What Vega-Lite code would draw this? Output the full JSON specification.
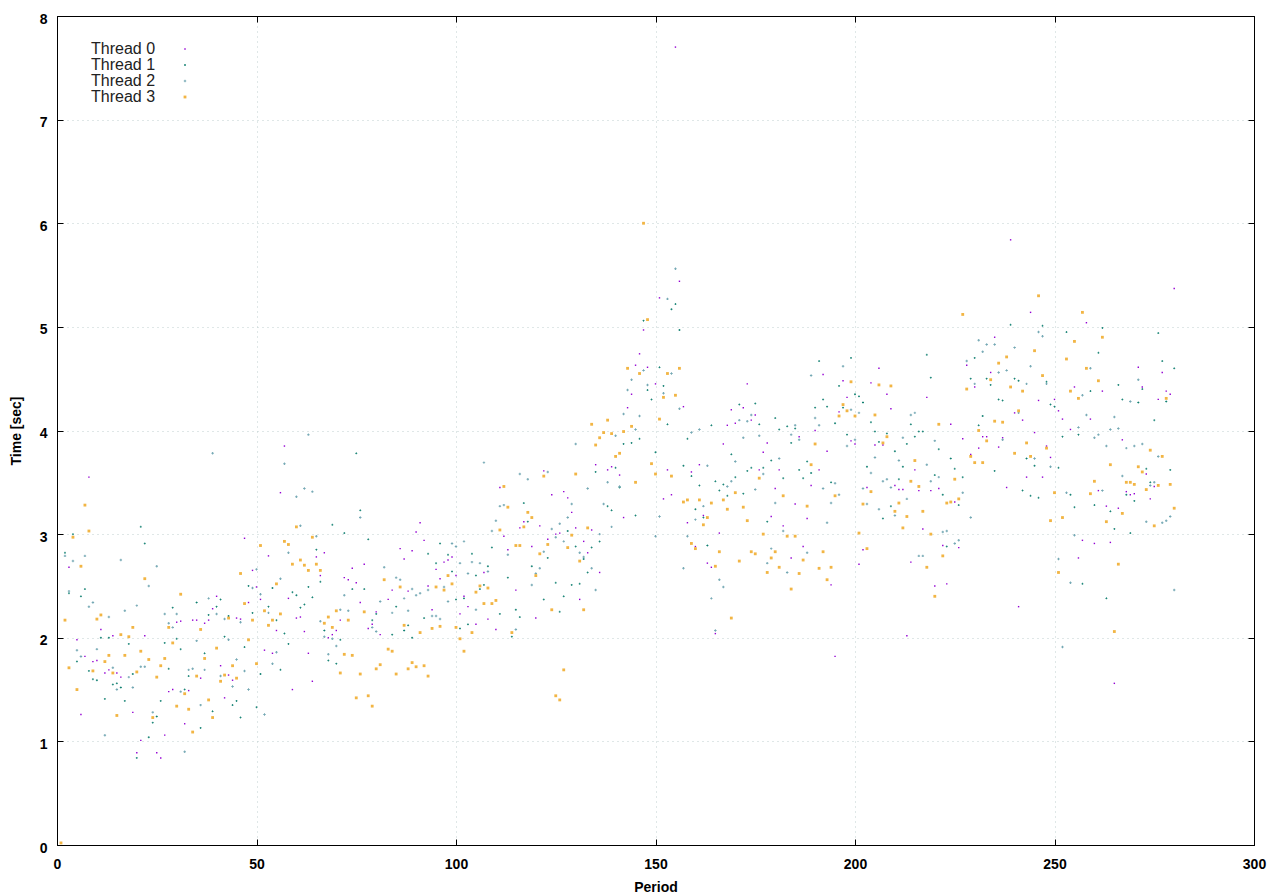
{"$schema":"https://vega.github.io/schema/vega-lite/v6.json","width":1197,"height":829,"autosize":{"type":"none"},"padding":{"left":57,"top":16,"right":26,"bottom":51},"background":"white","config":{"view":{"stroke":"black","strokeWidth":1},"font":"Liberation Sans"},
"data":{"values":[
{"p":3,"t":0,"v":2.68},{"p":5,"t":0,"v":1.98},{"p":6,"t":0,"v":1.26},{"p":7,"t":0,"v":1.82},{"p":8,"t":0,"v":3.55},{"p":9,"t":0,"v":1.77},{"p":10,"t":0,"v":1.78},{"p":11,"t":0,"v":2.08},{"p":12,"t":0,"v":1.66},{"p":13,"t":0,"v":1.69},{"p":14,"t":0,"v":2.02},{"p":15,"t":0,"v":1.66},{"p":16,"t":0,"v":1.62},{"p":19,"t":0,"v":1.28},{"p":20,"t":0,"v":0.89},{"p":21,"t":0,"v":1.01},{"p":22,"t":0,"v":2.02},{"p":25,"t":0,"v":0.89},{"p":26,"t":0,"v":0.84},{"p":27,"t":0,"v":1.06},{"p":28,"t":0,"v":1.48},{"p":29,"t":0,"v":1.5},{"p":30,"t":0,"v":2.15},{"p":31,"t":0,"v":2.16},{"p":32,"t":0,"v":1.17},{"p":33,"t":0,"v":1.49},{"p":34,"t":0,"v":2.17},{"p":35,"t":0,"v":2.17},{"p":36,"t":0,"v":1.61},{"p":37,"t":0,"v":2.14},{"p":38,"t":0,"v":2.17},{"p":39,"t":0,"v":2.28},{"p":40,"t":0,"v":2.4},{"p":41,"t":0,"v":1.73},{"p":42,"t":0,"v":1.42},{"p":43,"t":0,"v":1.64},{"p":44,"t":0,"v":1.59},{"p":45,"t":0,"v":2.19},{"p":46,"t":0,"v":2.18},{"p":47,"t":0,"v":2.96},{"p":48,"t":0,"v":2.34},{"p":49,"t":0,"v":2.65},{"p":50,"t":0,"v":2.49},{"p":51,"t":0,"v":2.37},{"p":52,"t":0,"v":1.88},{"p":53,"t":0,"v":2.79},{"p":54,"t":0,"v":1.85},{"p":55,"t":0,"v":2.07},{"p":56,"t":0,"v":3.4},{"p":57,"t":0,"v":3.85},{"p":58,"t":0,"v":2.38},{"p":59,"t":0,"v":1.5},{"p":60,"t":0,"v":2.19},{"p":61,"t":0,"v":2.2},{"p":62,"t":0,"v":2.06},{"p":63,"t":0,"v":1.85},{"p":64,"t":0,"v":1.58},{"p":65,"t":0,"v":2.78},{"p":66,"t":0,"v":2.6},{"p":67,"t":0,"v":2.82},{"p":68,"t":0,"v":2.0},{"p":69,"t":0,"v":2.03},{"p":70,"t":0,"v":2.07},{"p":71,"t":0,"v":2.17},{"p":72,"t":0,"v":2.58},{"p":73,"t":0,"v":2.56},
{"p":74,"t":0,"v":2.67},{"p":75,"t":0,"v":2.53},{"p":76,"t":0,"v":2.34},{"p":77,"t":0,"v":2.71},{"p":78,"t":0,"v":2.09},{"p":79,"t":0,"v":2.13},{"p":80,"t":0,"v":2.25},{"p":81,"t":0,"v":2.03},{"p":83,"t":0,"v":2.37},{"p":84,"t":0,"v":2.46},{"p":86,"t":0,"v":2.86},{"p":87,"t":0,"v":2.76},{"p":88,"t":0,"v":2.45},{"p":89,"t":0,"v":2.84},{"p":90,"t":0,"v":3.02},{"p":91,"t":0,"v":3.11},{"p":92,"t":0,"v":2.94},{"p":93,"t":0,"v":2.5},{"p":94,"t":0,"v":2.27},{"p":95,"t":0,"v":2.66},{"p":96,"t":0,"v":2.57},{"p":97,"t":0,"v":2.73},{"p":98,"t":0,"v":2.75},{"p":99,"t":0,"v":2.78},{"p":100,"t":0,"v":2.6},{"p":101,"t":0,"v":2.23},{"p":102,"t":0,"v":2.4},{"p":103,"t":0,"v":2.3},{"p":105,"t":0,"v":2.13},{"p":107,"t":0,"v":2.63},{"p":108,"t":0,"v":2.18},{"p":110,"t":0,"v":2.08},{"p":111,"t":0,"v":3.45},{"p":112,"t":0,"v":2.98},{"p":113,"t":0,"v":2.85},{"p":115,"t":0,"v":2.46},{"p":116,"t":0,"v":3.06},{"p":117,"t":0,"v":3.12},{"p":119,"t":0,"v":2.88},{"p":120,"t":0,"v":2.19},{"p":121,"t":0,"v":3.08},{"p":122,"t":0,"v":3.61},{"p":123,"t":0,"v":2.95},{"p":124,"t":0,"v":3.38},{"p":125,"t":0,"v":3.0},{"p":126,"t":0,"v":3.01},{"p":127,"t":0,"v":3.41},{"p":128,"t":0,"v":3.35},{"p":129,"t":0,"v":3.21},{"p":130,"t":0,"v":3.06},{"p":131,"t":0,"v":2.37},{"p":132,"t":0,"v":2.93},{"p":133,"t":0,"v":2.82},{"p":134,"t":0,"v":3.04},{"p":135,"t":0,"v":3.67},{"p":136,"t":0,"v":2.63},{"p":138,"t":0,"v":3.62},{"p":139,"t":0,"v":3.65},{"p":141,"t":0,"v":3.57},{"p":142,"t":0,"v":3.16},{"p":143,"t":0,"v":4.22},{"p":144,"t":0,"v":4.35},{"p":145,"t":0,"v":4.63},{"p":146,"t":0,"v":4.74},{"p":147,"t":0,"v":4.97},{"p":148,"t":0,"v":4.61},
{"p":150,"t":0,"v":4.45},{"p":151,"t":0,"v":5.28},{"p":152,"t":0,"v":3.34},{"p":153,"t":0,"v":3.62},{"p":154,"t":0,"v":3.38},{"p":155,"t":0,"v":7.7},{"p":156,"t":0,"v":5.44},{"p":157,"t":0,"v":4.23},{"p":158,"t":0,"v":3.11},{"p":159,"t":0,"v":3.6},{"p":160,"t":0,"v":2.88},{"p":161,"t":0,"v":3.67},{"p":162,"t":0,"v":3.18},{"p":163,"t":0,"v":2.72},{"p":164,"t":0,"v":2.68},{"p":165,"t":0,"v":2.04},{"p":166,"t":0,"v":3.01},{"p":167,"t":0,"v":3.87},{"p":168,"t":0,"v":4.05},{"p":169,"t":0,"v":4.2},{"p":170,"t":0,"v":4.07},{"p":172,"t":0,"v":4.22},{"p":173,"t":0,"v":4.45},{"p":174,"t":0,"v":4.1},{"p":175,"t":0,"v":4.15},{"p":176,"t":0,"v":3.62},{"p":177,"t":0,"v":3.79},{"p":178,"t":0,"v":3.88},{"p":179,"t":0,"v":3.17},{"p":180,"t":0,"v":3.44},{"p":181,"t":0,"v":3.62},{"p":182,"t":0,"v":3.08},{"p":184,"t":0,"v":2.77},{"p":185,"t":0,"v":3.29},{"p":186,"t":0,"v":3.94},{"p":187,"t":0,"v":2.88},{"p":188,"t":0,"v":3.15},{"p":189,"t":0,"v":3.47},{"p":190,"t":0,"v":4.0},{"p":191,"t":0,"v":3.62},{"p":192,"t":0,"v":4.54},{"p":193,"t":0,"v":3.8},{"p":194,"t":0,"v":2.51},{"p":195,"t":0,"v":1.82},{"p":196,"t":0,"v":4.18},{"p":197,"t":0,"v":4.48},{"p":198,"t":0,"v":4.32},{"p":199,"t":0,"v":3.9},{"p":200,"t":0,"v":3.87},{"p":201,"t":0,"v":2.71},{"p":202,"t":0,"v":2.85},{"p":203,"t":0,"v":3.45},{"p":204,"t":0,"v":4.46},{"p":205,"t":0,"v":3.86},{"p":206,"t":0,"v":4.6},{"p":207,"t":0,"v":3.86},{"p":208,"t":0,"v":4.35},{"p":209,"t":0,"v":4.21},{"p":210,"t":0,"v":3.47},{"p":211,"t":0,"v":3.43},{"p":212,"t":0,"v":3.43},{"p":213,"t":0,"v":2.02},{"p":214,"t":0,"v":2.73},{"p":215,"t":0,"v":3.62},{"p":216,"t":0,"v":3.42},{"p":217,"t":0,"v":3.05},{"p":218,"t":0,"v":4.32},{"p":219,"t":0,"v":3.42},{"p":220,"t":0,"v":2.5},{"p":221,"t":0,"v":3.44},{"p":222,"t":0,"v":2.89},{"p":223,"t":0,"v":2.52},
{"p":224,"t":0,"v":4.06},{"p":225,"t":0,"v":3.31},{"p":226,"t":0,"v":2.87},{"p":227,"t":0,"v":3.92},{"p":228,"t":0,"v":4.63},{"p":229,"t":0,"v":3.77},{"p":230,"t":0,"v":4.42},{"p":231,"t":0,"v":3.83},{"p":232,"t":0,"v":3.94},{"p":233,"t":0,"v":3.94},{"p":234,"t":0,"v":4.56},{"p":235,"t":0,"v":4.9},{"p":236,"t":0,"v":3.84},{"p":237,"t":0,"v":3.93},{"p":238,"t":0,"v":3.45},{"p":239,"t":0,"v":5.84},{"p":240,"t":0,"v":4.17},{"p":241,"t":0,"v":2.3},{"p":242,"t":0,"v":4.1},{"p":243,"t":0,"v":3.55},{"p":244,"t":0,"v":5.14},{"p":245,"t":0,"v":3.98},{"p":246,"t":0,"v":4.29},{"p":247,"t":0,"v":3.55},{"p":248,"t":0,"v":3.85},{"p":249,"t":0,"v":3.74},{"p":250,"t":0,"v":4.3},{"p":251,"t":0,"v":4.19},{"p":252,"t":0,"v":4.11},{"p":254,"t":0,"v":4.01},{"p":255,"t":0,"v":4.42},{"p":256,"t":0,"v":2.77},{"p":257,"t":0,"v":2.94},{"p":258,"t":0,"v":5.04},{"p":259,"t":0,"v":4.11},{"p":260,"t":0,"v":2.91},{"p":261,"t":0,"v":3.42},{"p":262,"t":0,"v":4.38},{"p":263,"t":0,"v":3.27},{"p":264,"t":0,"v":2.92},{"p":265,"t":0,"v":1.56},{"p":266,"t":0,"v":3.25},{"p":267,"t":0,"v":3.91},{"p":268,"t":0,"v":3.41},{"p":269,"t":0,"v":3.38},{"p":270,"t":0,"v":3.39},{"p":271,"t":0,"v":4.61},{"p":272,"t":0,"v":4.42},{"p":273,"t":0,"v":3.58},{"p":274,"t":0,"v":3.34},{"p":275,"t":0,"v":3.46},{"p":276,"t":0,"v":4.3},{"p":277,"t":0,"v":4.56},{"p":278,"t":0,"v":4.38},{"p":279,"t":0,"v":4.35},{"p":280,"t":0,"v":5.37},
{"p":2,"t":1,"v":2.82},{"p":3,"t":1,"v":2.43},{"p":4,"t":1,"v":3.0},{"p":5,"t":1,"v":1.77},{"p":6,"t":1,"v":2.4},{"p":7,"t":1,"v":2.47},{"p":8,"t":1,"v":1.68},{"p":9,"t":1,"v":1.6},{"p":10,"t":1,"v":1.59},{"p":11,"t":1,"v":2.0},{"p":12,"t":1,"v":1.41},{"p":13,"t":1,"v":2.0},{"p":14,"t":1,"v":1.55},{"p":15,"t":1,"v":1.56},{"p":16,"t":1,"v":1.52},{"p":17,"t":1,"v":1.39},{"p":18,"t":1,"v":1.94},{"p":19,"t":1,"v":1.65},{"p":20,"t":1,"v":0.84},{"p":21,"t":1,"v":3.07},{"p":22,"t":1,"v":2.91},{"p":23,"t":1,"v":1.04},{"p":24,"t":1,"v":1.18},{"p":25,"t":1,"v":1.24},{"p":26,"t":1,"v":1.39},{"p":27,"t":1,"v":1.95},{"p":28,"t":1,"v":1.7},{"p":29,"t":1,"v":2.29},{"p":30,"t":1,"v":1.99},{"p":31,"t":1,"v":1.89},{"p":32,"t":1,"v":1.5},{"p":33,"t":1,"v":1.63},{"p":35,"t":1,"v":2.34},{"p":36,"t":1,"v":1.13},{"p":37,"t":1,"v":1.85},{"p":38,"t":1,"v":2.22},{"p":39,"t":1,"v":1.29},{"p":40,"t":1,"v":2.3},{"p":41,"t":1,"v":2.37},{"p":42,"t":1,"v":2.01},{"p":43,"t":1,"v":2.21},{"p":44,"t":1,"v":1.35},{"p":45,"t":1,"v":1.39},{"p":46,"t":1,"v":1.23},{"p":47,"t":1,"v":1.91},{"p":48,"t":1,"v":2.5},{"p":49,"t":1,"v":2.24},{"p":50,"t":1,"v":1.33},{"p":51,"t":1,"v":1.65},{"p":53,"t":1,"v":2.3},{"p":54,"t":1,"v":2.48},{"p":55,"t":1,"v":2.17},{"p":56,"t":1,"v":1.69},{"p":57,"t":1,"v":2.04},{"p":58,"t":1,"v":1.94},{"p":59,"t":1,"v":2.44},{"p":60,"t":1,"v":2.41},{"p":61,"t":1,"v":2.29},{"p":62,"t":1,"v":2.32},{"p":63,"t":1,"v":2.49},{"p":64,"t":1,"v":2.39},{"p":65,"t":1,"v":2.85},{"p":66,"t":1,"v":2.54},{"p":67,"t":1,"v":2.07},{"p":68,"t":1,"v":1.78},{"p":69,"t":1,"v":3.09},{"p":70,"t":1,"v":1.75},{"p":71,"t":1,"v":1.98},{"p":72,"t":1,"v":3.01},
{"p":74,"t":1,"v":2.47},{"p":75,"t":1,"v":3.78},{"p":76,"t":1,"v":3.23},{"p":77,"t":1,"v":2.47},{"p":78,"t":1,"v":2.95},{"p":79,"t":1,"v":2.17},{"p":80,"t":1,"v":2.23},{"p":84,"t":1,"v":2.03},{"p":85,"t":1,"v":2.3},{"p":87,"t":1,"v":2.07},{"p":88,"t":1,"v":2.12},{"p":89,"t":1,"v":2.0},{"p":92,"t":1,"v":2.19},{"p":93,"t":1,"v":2.81},{"p":95,"t":1,"v":2.72},{"p":96,"t":1,"v":2.91},{"p":98,"t":1,"v":2.8},{"p":99,"t":1,"v":2.64},{"p":100,"t":1,"v":2.37},{"p":101,"t":1,"v":2.09},{"p":102,"t":1,"v":2.38},{"p":103,"t":1,"v":2.13},{"p":104,"t":1,"v":2.81},{"p":105,"t":1,"v":2.6},{"p":106,"t":1,"v":2.47},{"p":107,"t":1,"v":2.51},{"p":108,"t":1,"v":2.69},{"p":109,"t":1,"v":2.87},{"p":111,"t":1,"v":2.23},{"p":113,"t":1,"v":2.58},{"p":114,"t":1,"v":2.01},{"p":115,"t":1,"v":2.27},{"p":116,"t":1,"v":2.2},{"p":117,"t":1,"v":3.3},{"p":118,"t":1,"v":3.12},{"p":119,"t":1,"v":2.69},{"p":122,"t":1,"v":2.37},{"p":123,"t":1,"v":2.77},{"p":125,"t":1,"v":2.53},{"p":126,"t":1,"v":2.25},{"p":127,"t":1,"v":2.4},{"p":128,"t":1,"v":3.03},{"p":129,"t":1,"v":2.51},{"p":130,"t":1,"v":2.88},{"p":131,"t":1,"v":2.52},{"p":132,"t":1,"v":2.76},{"p":133,"t":1,"v":2.63},{"p":134,"t":1,"v":2.87},{"p":135,"t":1,"v":3.6},{"p":136,"t":1,"v":2.93},{"p":138,"t":1,"v":3.27},{"p":139,"t":1,"v":3.23},{"p":140,"t":1,"v":3.64},{"p":141,"t":1,"v":3.45},{"p":142,"t":1,"v":3.87},{"p":144,"t":1,"v":3.88},{"p":145,"t":1,"v":3.18},{"p":146,"t":1,"v":3.92},{"p":147,"t":1,"v":5.06},{"p":148,"t":1,"v":4.39},
{"p":149,"t":1,"v":4.3},{"p":150,"t":1,"v":3.79},{"p":151,"t":1,"v":4.61},{"p":152,"t":1,"v":4.43},{"p":153,"t":1,"v":4.06},{"p":154,"t":1,"v":5.17},{"p":155,"t":1,"v":5.22},{"p":156,"t":1,"v":4.97},{"p":157,"t":1,"v":3.66},{"p":158,"t":1,"v":3.92},{"p":159,"t":1,"v":3.56},{"p":160,"t":1,"v":3.24},{"p":161,"t":1,"v":3.47},{"p":162,"t":1,"v":3.16},{"p":163,"t":1,"v":2.89},{"p":164,"t":1,"v":4.05},{"p":165,"t":1,"v":3.51},{"p":166,"t":1,"v":3.42},{"p":167,"t":1,"v":3.48},{"p":168,"t":1,"v":3.37},{"p":169,"t":1,"v":3.77},{"p":170,"t":1,"v":3.55},{"p":171,"t":1,"v":4.25},{"p":172,"t":1,"v":3.39},{"p":173,"t":1,"v":3.61},{"p":174,"t":1,"v":3.64},{"p":175,"t":1,"v":4.26},{"p":176,"t":1,"v":4.06},{"p":177,"t":1,"v":3.64},{"p":178,"t":1,"v":3.12},{"p":179,"t":1,"v":3.71},{"p":180,"t":1,"v":4.12},{"p":181,"t":1,"v":4.01},{"p":182,"t":1,"v":3.54},{"p":183,"t":1,"v":4.04},{"p":184,"t":1,"v":3.88},{"p":185,"t":1,"v":4.02},{"p":186,"t":1,"v":3.62},{"p":187,"t":1,"v":3.54},{"p":188,"t":1,"v":3.7},{"p":189,"t":1,"v":3.59},{"p":190,"t":1,"v":4.22},{"p":191,"t":1,"v":4.67},{"p":192,"t":1,"v":4.3},{"p":193,"t":1,"v":4.23},{"p":194,"t":1,"v":3.5},{"p":195,"t":1,"v":4.07},{"p":196,"t":1,"v":4.43},{"p":197,"t":1,"v":4.22},{"p":198,"t":1,"v":3.96},{"p":199,"t":1,"v":4.7},{"p":200,"t":1,"v":4.35},{"p":201,"t":1,"v":4.33},{"p":202,"t":1,"v":4.27},{"p":203,"t":1,"v":3.65},{"p":204,"t":1,"v":4.08},{"p":205,"t":1,"v":3.99},{"p":206,"t":1,"v":3.89},{"p":207,"t":1,"v":3.15},{"p":208,"t":1,"v":3.97},{"p":209,"t":1,"v":3.27},{"p":210,"t":1,"v":3.8},{"p":211,"t":1,"v":3.53},{"p":212,"t":1,"v":3.65},{"p":213,"t":1,"v":3.87},{"p":214,"t":1,"v":4.06},{"p":215,"t":1,"v":3.94},{"p":216,"t":1,"v":3.99},{"p":217,"t":1,"v":3.99},{"p":218,"t":1,"v":4.73},{"p":219,"t":1,"v":4.51},{"p":220,"t":1,"v":3.57},{"p":221,"t":1,"v":3.82},{"p":222,"t":1,"v":3.38},{"p":223,"t":1,"v":2.88},
{"p":224,"t":1,"v":3.73},{"p":225,"t":1,"v":3.63},{"p":226,"t":1,"v":3.28},{"p":227,"t":1,"v":3.55},{"p":229,"t":1,"v":4.5},{"p":230,"t":1,"v":4.7},{"p":231,"t":1,"v":4.05},{"p":232,"t":1,"v":4.14},{"p":233,"t":1,"v":4.5},{"p":234,"t":1,"v":4.44},{"p":235,"t":1,"v":3.61},{"p":236,"t":1,"v":4.3},{"p":237,"t":1,"v":4.29},{"p":239,"t":1,"v":5.02},{"p":240,"t":1,"v":4.5},{"p":241,"t":1,"v":4.48},{"p":242,"t":1,"v":3.42},{"p":243,"t":1,"v":3.73},{"p":244,"t":1,"v":3.37},{"p":245,"t":1,"v":3.66},{"p":246,"t":1,"v":3.35},{"p":247,"t":1,"v":5.01},{"p":248,"t":1,"v":4.47},{"p":249,"t":1,"v":4.25},{"p":250,"t":1,"v":4.23},{"p":251,"t":1,"v":3.64},{"p":252,"t":1,"v":3.94},{"p":253,"t":1,"v":4.95},{"p":254,"t":1,"v":3.38},{"p":255,"t":1,"v":3.26},{"p":256,"t":1,"v":3.96},{"p":257,"t":1,"v":2.52},{"p":259,"t":1,"v":4.38},{"p":260,"t":1,"v":3.28},{"p":261,"t":1,"v":4.75},{"p":262,"t":1,"v":4.99},{"p":263,"t":1,"v":2.38},{"p":264,"t":1,"v":3.22},{"p":265,"t":1,"v":3.05},{"p":266,"t":1,"v":4.44},{"p":267,"t":1,"v":4.3},{"p":268,"t":1,"v":3.38},{"p":269,"t":1,"v":3.01},{"p":270,"t":1,"v":3.32},{"p":271,"t":1,"v":4.27},{"p":272,"t":1,"v":4.4},{"p":273,"t":1,"v":3.63},{"p":274,"t":1,"v":3.5},{"p":275,"t":1,"v":4.1},{"p":276,"t":1,"v":4.94},{"p":277,"t":1,"v":4.67},{"p":278,"t":1,"v":4.28},{"p":279,"t":1,"v":3.62},{"p":280,"t":1,"v":4.6},
{"p":2,"t":2,"v":2.79},{"p":3,"t":2,"v":2.45},{"p":4,"t":2,"v":2.74},{"p":5,"t":2,"v":1.88},{"p":6,"t":2,"v":1.82},{"p":7,"t":2,"v":2.79},{"p":8,"t":2,"v":2.3},{"p":9,"t":2,"v":2.34},{"p":10,"t":2,"v":1.89},{"p":12,"t":2,"v":1.06},{"p":13,"t":2,"v":2.2},{"p":14,"t":2,"v":1.71},{"p":15,"t":2,"v":1.5},{"p":16,"t":2,"v":2.75},{"p":17,"t":2,"v":2.26},{"p":18,"t":2,"v":1.62},{"p":19,"t":2,"v":1.52},{"p":20,"t":2,"v":2.31},{"p":21,"t":2,"v":1.72},{"p":22,"t":2,"v":1.72},{"p":23,"t":2,"v":2.5},{"p":24,"t":2,"v":1.28},{"p":25,"t":2,"v":2.69},{"p":27,"t":2,"v":2.23},{"p":28,"t":2,"v":2.14},{"p":29,"t":2,"v":2.1},{"p":30,"t":2,"v":2.23},{"p":31,"t":2,"v":1.48},{"p":32,"t":2,"v":0.9},{"p":33,"t":2,"v":1.69},{"p":34,"t":2,"v":1.7},{"p":35,"t":2,"v":1.97},{"p":36,"t":2,"v":1.35},{"p":37,"t":2,"v":1.69},{"p":38,"t":2,"v":2.38},{"p":39,"t":2,"v":3.78},{"p":40,"t":2,"v":2.23},{"p":41,"t":2,"v":1.63},{"p":42,"t":2,"v":2.18},{"p":43,"t":2,"v":1.98},{"p":44,"t":2,"v":1.53},{"p":45,"t":2,"v":1.79},{"p":46,"t":2,"v":2.15},{"p":47,"t":2,"v":1.68},{"p":48,"t":2,"v":1.5},{"p":49,"t":2,"v":2.48},{"p":50,"t":2,"v":2.66},{"p":51,"t":2,"v":2.42},{"p":52,"t":2,"v":1.26},{"p":53,"t":2,"v":2.24},{"p":54,"t":2,"v":1.75},{"p":55,"t":2,"v":1.86},{"p":56,"t":2,"v":2.57},{"p":57,"t":2,"v":3.68},{"p":58,"t":2,"v":2.82},{"p":60,"t":2,"v":3.36},{"p":61,"t":2,"v":3.08},{"p":62,"t":2,"v":3.44},{"p":63,"t":2,"v":3.96},{"p":64,"t":2,"v":3.41},{"p":65,"t":2,"v":2.98},{"p":66,"t":2,"v":2.16},{"p":67,"t":2,"v":2.01},{"p":68,"t":2,"v":1.84},{"p":69,"t":2,"v":1.99},{"p":70,"t":2,"v":1.92},{"p":71,"t":2,"v":2.27},{"p":72,"t":2,"v":2.41},{"p":73,"t":2,"v":2.26},
{"p":76,"t":2,"v":3.16},{"p":79,"t":2,"v":2.1},{"p":80,"t":2,"v":2.06},{"p":81,"t":2,"v":2.35},{"p":82,"t":2,"v":2.68},{"p":84,"t":2,"v":2.24},{"p":85,"t":2,"v":2.58},{"p":86,"t":2,"v":2.56},{"p":87,"t":2,"v":2.38},{"p":88,"t":2,"v":2.26},{"p":89,"t":2,"v":2.47},{"p":90,"t":2,"v":2.41},{"p":91,"t":2,"v":2.43},{"p":93,"t":2,"v":2.46},{"p":94,"t":2,"v":2.21},{"p":95,"t":2,"v":2.21},{"p":96,"t":2,"v":2.18},{"p":97,"t":2,"v":2.49},{"p":98,"t":2,"v":2.35},{"p":99,"t":2,"v":2.91},{"p":100,"t":2,"v":2.88},{"p":101,"t":2,"v":2.72},{"p":102,"t":2,"v":2.93},{"p":103,"t":2,"v":2.62},{"p":104,"t":2,"v":2.73},{"p":105,"t":2,"v":2.27},{"p":106,"t":2,"v":2.72},{"p":107,"t":2,"v":3.69},{"p":108,"t":2,"v":2.64},{"p":109,"t":2,"v":3.03},{"p":110,"t":2,"v":3.13},{"p":111,"t":2,"v":3.27},{"p":112,"t":2,"v":3.28},{"p":113,"t":2,"v":2.8},{"p":115,"t":2,"v":2.08},{"p":116,"t":2,"v":3.58},{"p":118,"t":2,"v":3.53},{"p":119,"t":2,"v":2.51},{"p":120,"t":2,"v":2.62},{"p":121,"t":2,"v":2.67},{"p":122,"t":2,"v":2.83},{"p":123,"t":2,"v":3.6},{"p":124,"t":2,"v":3.05},{"p":125,"t":2,"v":2.97},{"p":126,"t":2,"v":3.1},{"p":127,"t":2,"v":2.93},{"p":128,"t":2,"v":3.16},{"p":129,"t":2,"v":3.29},{"p":130,"t":2,"v":3.87},{"p":131,"t":2,"v":2.82},{"p":132,"t":2,"v":2.78},{"p":133,"t":2,"v":3.44},{"p":134,"t":2,"v":2.67},{"p":135,"t":2,"v":2.46},{"p":136,"t":2,"v":3.0},{"p":137,"t":2,"v":3.29},{"p":138,"t":2,"v":3.5},{"p":139,"t":2,"v":3.07},{"p":140,"t":2,"v":3.95},{"p":141,"t":2,"v":3.46},{"p":142,"t":2,"v":4.16},{"p":143,"t":2,"v":4.39},{"p":144,"t":2,"v":4.49},{"p":145,"t":2,"v":4.01},{"p":146,"t":2,"v":4.14},{"p":147,"t":2,"v":4.58},{"p":148,"t":2,"v":4.44},
{"p":150,"t":2,"v":2.98},{"p":151,"t":2,"v":3.17},{"p":152,"t":2,"v":4.36},{"p":153,"t":2,"v":5.27},{"p":154,"t":2,"v":4.55},{"p":155,"t":2,"v":5.56},{"p":156,"t":2,"v":4.21},{"p":157,"t":2,"v":2.67},{"p":158,"t":2,"v":2.98},{"p":159,"t":2,"v":3.98},{"p":160,"t":2,"v":3.14},{"p":161,"t":2,"v":4.01},{"p":162,"t":2,"v":3.27},{"p":163,"t":2,"v":3.66},{"p":164,"t":2,"v":2.38},{"p":165,"t":2,"v":2.07},{"p":166,"t":2,"v":2.56},{"p":167,"t":2,"v":2.49},{"p":168,"t":2,"v":3.46},{"p":169,"t":2,"v":3.51},{"p":170,"t":2,"v":3.7},{"p":171,"t":2,"v":4.1},{"p":172,"t":2,"v":3.93},{"p":173,"t":2,"v":4.09},{"p":174,"t":2,"v":4.15},{"p":175,"t":2,"v":3.43},{"p":176,"t":2,"v":3.95},{"p":177,"t":2,"v":3.58},{"p":178,"t":2,"v":2.72},{"p":179,"t":2,"v":2.86},{"p":180,"t":2,"v":3.3},{"p":181,"t":2,"v":3.73},{"p":182,"t":2,"v":3.03},{"p":183,"t":2,"v":2.63},{"p":184,"t":2,"v":3.96},{"p":185,"t":2,"v":4.05},{"p":186,"t":2,"v":3.91},{"p":188,"t":2,"v":2.82},{"p":189,"t":2,"v":4.53},{"p":190,"t":2,"v":4.12},{"p":191,"t":2,"v":4.05},{"p":192,"t":2,"v":3.44},{"p":193,"t":2,"v":3.11},{"p":194,"t":2,"v":3.3},{"p":195,"t":2,"v":3.49},{"p":196,"t":2,"v":3.38},{"p":197,"t":2,"v":4.62},{"p":198,"t":2,"v":3.85},{"p":199,"t":2,"v":4.2},{"p":200,"t":2,"v":3.91},{"p":201,"t":2,"v":4.17},{"p":202,"t":2,"v":3.44},{"p":203,"t":2,"v":3.29},{"p":204,"t":2,"v":3.59},{"p":205,"t":2,"v":3.74},{"p":206,"t":2,"v":3.24},{"p":207,"t":2,"v":3.51},{"p":208,"t":2,"v":3.53},{"p":209,"t":2,"v":3.45},{"p":210,"t":2,"v":3.18},{"p":211,"t":2,"v":3.71},{"p":212,"t":2,"v":3.93},{"p":213,"t":2,"v":3.34},{"p":214,"t":2,"v":4.15},{"p":215,"t":2,"v":4.17},{"p":216,"t":2,"v":2.79},{"p":217,"t":2,"v":2.79},{"p":218,"t":2,"v":3.67},{"p":219,"t":2,"v":3.51},{"p":220,"t":2,"v":3.9},{"p":221,"t":2,"v":3.55},{"p":222,"t":2,"v":3.02},{"p":223,"t":2,"v":3.03},
{"p":225,"t":2,"v":2.91},{"p":226,"t":2,"v":2.94},{"p":227,"t":2,"v":3.4},{"p":228,"t":2,"v":4.67},{"p":229,"t":2,"v":3.16},{"p":230,"t":2,"v":4.45},{"p":231,"t":2,"v":4.87},{"p":232,"t":2,"v":4.76},{"p":233,"t":2,"v":4.83},{"p":235,"t":2,"v":4.83},{"p":236,"t":2,"v":4.56},{"p":237,"t":2,"v":3.91},{"p":238,"t":2,"v":4.58},{"p":240,"t":2,"v":4.8},{"p":241,"t":2,"v":4.17},{"p":243,"t":2,"v":4.45},{"p":244,"t":2,"v":4.62},{"p":245,"t":2,"v":3.73},{"p":246,"t":2,"v":4.95},{"p":247,"t":2,"v":4.91},{"p":248,"t":2,"v":4.45},{"p":249,"t":2,"v":3.65},{"p":251,"t":2,"v":2.76},{"p":252,"t":2,"v":1.91},{"p":253,"t":2,"v":3.4},{"p":254,"t":2,"v":2.53},{"p":255,"t":2,"v":2.99},{"p":256,"t":2,"v":4.03},{"p":257,"t":2,"v":4.34},{"p":258,"t":2,"v":4.15},{"p":259,"t":2,"v":4.6},{"p":260,"t":2,"v":3.93},{"p":261,"t":2,"v":3.96},{"p":262,"t":2,"v":3.42},{"p":263,"t":2,"v":3.85},{"p":264,"t":2,"v":4.01},{"p":265,"t":2,"v":4.13},{"p":266,"t":2,"v":4.02},{"p":267,"t":2,"v":3.56},{"p":268,"t":2,"v":3.83},{"p":269,"t":2,"v":4.28},{"p":270,"t":2,"v":3.85},{"p":271,"t":2,"v":4.49},{"p":272,"t":2,"v":3.87},{"p":273,"t":2,"v":3.12},{"p":274,"t":2,"v":3.47},{"p":275,"t":2,"v":3.5},{"p":276,"t":2,"v":3.75},{"p":277,"t":2,"v":3.11},{"p":278,"t":2,"v":3.13},{"p":279,"t":2,"v":3.17},{"p":280,"t":2,"v":2.46},
{"p":1,"t":3,"v":0.02},{"p":2,"t":3,"v":2.17},{"p":3,"t":3,"v":1.71},{"p":4,"t":3,"v":2.97},{"p":5,"t":3,"v":1.5},{"p":6,"t":3,"v":2.69},{"p":7,"t":3,"v":3.28},{"p":8,"t":3,"v":3.03},{"p":9,"t":3,"v":1.68},{"p":10,"t":3,"v":2.18},{"p":11,"t":3,"v":2.22},{"p":12,"t":3,"v":1.77},{"p":13,"t":3,"v":1.83},{"p":14,"t":3,"v":1.66},{"p":15,"t":3,"v":1.25},{"p":16,"t":3,"v":2.03},{"p":17,"t":3,"v":1.83},{"p":18,"t":3,"v":2.01},{"p":19,"t":3,"v":2.1},{"p":20,"t":3,"v":1.67},{"p":21,"t":3,"v":1.87},{"p":22,"t":3,"v":2.57},{"p":23,"t":3,"v":1.79},{"p":24,"t":3,"v":1.23},{"p":25,"t":3,"v":1.62},{"p":26,"t":3,"v":1.73},{"p":27,"t":3,"v":1.8},{"p":28,"t":3,"v":2.1},{"p":29,"t":3,"v":1.95},{"p":30,"t":3,"v":1.34},{"p":31,"t":3,"v":2.42},{"p":32,"t":3,"v":1.46},{"p":33,"t":3,"v":1.31},{"p":34,"t":3,"v":1.09},{"p":35,"t":3,"v":1.63},{"p":36,"t":3,"v":2.08},{"p":37,"t":3,"v":1.8},{"p":38,"t":3,"v":1.4},{"p":39,"t":3,"v":1.23},{"p":40,"t":3,"v":1.9},{"p":41,"t":3,"v":1.58},{"p":42,"t":3,"v":1.64},{"p":43,"t":3,"v":2.19},{"p":44,"t":3,"v":1.73},{"p":45,"t":3,"v":1.61},{"p":46,"t":3,"v":2.62},{"p":47,"t":3,"v":2.33},{"p":48,"t":3,"v":1.98},{"p":49,"t":3,"v":2.17},{"p":50,"t":3,"v":1.75},{"p":51,"t":3,"v":2.89},{"p":52,"t":3,"v":2.26},{"p":53,"t":3,"v":2.12},{"p":54,"t":3,"v":2.17},{"p":55,"t":3,"v":2.52},{"p":56,"t":3,"v":2.23},{"p":57,"t":3,"v":2.93},{"p":58,"t":3,"v":2.9},{"p":59,"t":3,"v":2.71},{"p":60,"t":3,"v":3.07},{"p":61,"t":3,"v":2.75},{"p":62,"t":3,"v":2.7},{"p":63,"t":3,"v":2.65},{"p":64,"t":3,"v":2.97},{"p":65,"t":3,"v":2.71},{"p":66,"t":3,"v":2.65},{"p":67,"t":3,"v":2.14},{"p":68,"t":3,"v":2.2},{"p":69,"t":3,"v":2.1},{"p":70,"t":3,"v":2.26},{"p":71,"t":3,"v":1.66},{"p":72,"t":3,"v":1.84},{"p":73,"t":3,"v":2.17},{"p":74,"t":3,"v":1.83},{"p":75,"t":3,"v":1.42},{"p":76,"t":3,"v":1.65},{"p":77,"t":3,"v":2.25},{"p":78,"t":3,"v":1.44},{"p":79,"t":3,"v":1.34},{"p":80,"t":3,"v":1.7},{"p":81,"t":3,"v":1.74},{"p":82,"t":3,"v":2.56},{"p":83,"t":3,"v":1.89},{"p":84,"t":3,"v":1.87},{"p":85,"t":3,"v":1.65},{"p":86,"t":3,"v":2.49},{"p":87,"t":3,"v":2.12},{"p":88,"t":3,"v":1.7},{"p":89,"t":3,"v":1.76},{"p":90,"t":3,"v":1.72},{"p":91,"t":3,"v":2.05},{"p":92,"t":3,"v":1.73},{"p":93,"t":3,"v":1.63},{"p":94,"t":3,"v":2.09},{"p":95,"t":3,"v":2.49},{"p":96,"t":3,"v":2.11},{"p":97,"t":3,"v":2.46},{"p":98,"t":3,"v":2.6},{"p":99,"t":3,"v":2.52},{"p":100,"t":3,"v":2.1},{"p":101,"t":3,"v":1.99},{"p":102,"t":3,"v":1.87},{"p":104,"t":3,"v":2.05},{"p":105,"t":3,"v":2.44},{"p":106,"t":3,"v":2.5},{"p":107,"t":3,"v":2.33},{"p":108,"t":3,"v":2.48},{"p":109,"t":3,"v":2.33},{"p":110,"t":3,"v":2.36},{"p":111,"t":3,"v":3.04},{"p":112,"t":3,"v":3.46},{"p":113,"t":3,"v":3.26},{"p":114,"t":3,"v":2.05},{"p":115,"t":3,"v":2.89},{"p":116,"t":3,"v":2.89},{"p":117,"t":3,"v":3.07},{"p":118,"t":3,"v":3.21},{"p":119,"t":3,"v":3.16},{"p":120,"t":3,"v":2.6},{"p":121,"t":3,"v":2.81},{"p":122,"t":3,"v":3.56},{"p":123,"t":3,"v":2.9},{"p":124,"t":3,"v":2.27},{"p":125,"t":3,"v":1.44},{"p":126,"t":3,"v":1.4},{"p":127,"t":3,"v":1.69},{"p":128,"t":3,"v":2.87},{"p":129,"t":3,"v":2.99},{"p":130,"t":3,"v":3.58},{"p":131,"t":3,"v":2.74},{"p":132,"t":3,"v":2.27},{"p":133,"t":3,"v":3.06},{"p":134,"t":3,"v":4.06},{"p":135,"t":3,"v":3.86},{"p":136,"t":3,"v":3.93},{"p":137,"t":3,"v":3.98},{"p":138,"t":3,"v":4.1},{"p":139,"t":3,"v":3.97},{"p":140,"t":3,"v":3.75},{"p":141,"t":3,"v":3.78},{"p":142,"t":3,"v":3.99},{"p":143,"t":3,"v":4.6},{"p":144,"t":3,"v":4.04},{"p":145,"t":3,"v":3.5},{"p":146,"t":3,"v":4.55},{"p":147,"t":3,"v":6.0},{"p":148,"t":3,"v":5.07},{"p":149,"t":3,"v":3.68},{"p":150,"t":3,"v":3.58},{"p":151,"t":3,"v":4.11},{"p":152,"t":3,"v":4.32},{"p":153,"t":3,"v":4.55},{"p":154,"t":3,"v":3.56},{"p":155,"t":3,"v":4.34},{"p":156,"t":3,"v":4.6},{"p":157,"t":3,"v":3.31},{"p":158,"t":3,"v":3.33},{"p":159,"t":3,"v":2.91},{"p":160,"t":3,"v":2.86},{"p":161,"t":3,"v":3.33},{"p":162,"t":3,"v":3.09},{"p":163,"t":3,"v":3.16},{"p":164,"t":3,"v":3.3},{"p":165,"t":3,"v":2.69},{"p":166,"t":3,"v":2.83},{"p":167,"t":3,"v":3.33},{"p":168,"t":3,"v":3.24},{"p":169,"t":3,"v":2.19},{"p":170,"t":3,"v":3.4},{"p":171,"t":3,"v":2.74},{"p":172,"t":3,"v":3.26},{"p":173,"t":3,"v":3.13},{"p":174,"t":3,"v":2.83},{"p":175,"t":3,"v":2.81},{"p":176,"t":3,"v":3.54},{"p":177,"t":3,"v":3.0},{"p":178,"t":3,"v":2.63},{"p":179,"t":3,"v":2.77},{"p":180,"t":3,"v":2.83},{"p":181,"t":3,"v":2.68},{"p":182,"t":3,"v":3.37},{"p":183,"t":3,"v":2.98},{"p":184,"t":3,"v":2.47},{"p":185,"t":3,"v":2.98},{"p":186,"t":3,"v":2.62},{"p":187,"t":3,"v":2.75},{"p":188,"t":3,"v":3.27},{"p":189,"t":3,"v":3.67},{"p":190,"t":3,"v":3.87},{"p":191,"t":3,"v":2.67},{"p":192,"t":3,"v":2.83},{"p":193,"t":3,"v":2.56},{"p":194,"t":3,"v":2.68},{"p":195,"t":3,"v":3.37},{"p":196,"t":3,"v":4.14},{"p":197,"t":3,"v":4.25},{"p":198,"t":3,"v":4.19},{"p":199,"t":3,"v":4.47},{"p":200,"t":3,"v":4.14},{"p":201,"t":3,"v":3.01},{"p":202,"t":3,"v":3.29},{"p":203,"t":3,"v":2.86},{"p":204,"t":3,"v":3.41},{"p":205,"t":3,"v":4.15},{"p":206,"t":3,"v":4.44},{"p":207,"t":3,"v":3.88},{"p":208,"t":3,"v":3.94},{"p":209,"t":3,"v":4.43},{"p":210,"t":3,"v":3.22},{"p":211,"t":3,"v":3.3},{"p":212,"t":3,"v":3.06},{"p":213,"t":3,"v":3.17},{"p":214,"t":3,"v":3.51},{"p":215,"t":3,"v":3.71},{"p":216,"t":3,"v":3.46},{"p":217,"t":3,"v":3.22},{"p":218,"t":3,"v":2.68},{"p":219,"t":3,"v":3.0},{"p":220,"t":3,"v":2.4},{"p":221,"t":3,"v":4.06},{"p":222,"t":3,"v":2.79},{"p":223,"t":3,"v":3.3},{"p":224,"t":3,"v":3.31},{"p":225,"t":3,"v":3.53},{"p":226,"t":3,"v":3.34},{"p":227,"t":3,"v":5.12},{"p":228,"t":3,"v":4.4},{"p":229,"t":3,"v":3.75},{"p":230,"t":3,"v":3.69},{"p":231,"t":3,"v":4.0},{"p":232,"t":3,"v":3.69},{"p":233,"t":3,"v":3.9},{"p":234,"t":3,"v":4.49},{"p":235,"t":3,"v":4.09},{"p":236,"t":3,"v":4.65},{"p":237,"t":3,"v":4.08},{"p":238,"t":3,"v":4.71},{"p":239,"t":3,"v":4.42},{"p":240,"t":3,"v":3.78},{"p":241,"t":3,"v":4.19},{"p":242,"t":3,"v":4.38},{"p":243,"t":3,"v":3.88},{"p":244,"t":3,"v":3.75},{"p":245,"t":3,"v":4.77},{"p":246,"t":3,"v":5.3},{"p":247,"t":3,"v":4.53},{"p":248,"t":3,"v":3.83},{"p":249,"t":3,"v":3.13},{"p":250,"t":3,"v":3.4},{"p":251,"t":3,"v":2.63},{"p":252,"t":3,"v":3.16},{"p":253,"t":3,"v":4.69},{"p":254,"t":3,"v":4.38},{"p":255,"t":3,"v":4.86},{"p":256,"t":3,"v":4.31},{"p":257,"t":3,"v":5.14},{"p":258,"t":3,"v":4.6},{"p":259,"t":3,"v":3.39},{"p":260,"t":3,"v":3.51},{"p":261,"t":3,"v":4.48},{"p":262,"t":3,"v":4.9},{"p":263,"t":3,"v":3.12},{"p":264,"t":3,"v":3.67},{"p":265,"t":3,"v":2.06},{"p":266,"t":3,"v":2.71},{"p":267,"t":3,"v":3.2},{"p":268,"t":3,"v":3.5},{"p":269,"t":3,"v":3.5},{"p":270,"t":3,"v":3.48},{"p":271,"t":3,"v":3.65},{"p":272,"t":3,"v":3.6},{"p":273,"t":3,"v":3.43},{"p":274,"t":3,"v":3.81},{"p":275,"t":3,"v":3.08},{"p":276,"t":3,"v":3.47},{"p":277,"t":3,"v":3.75},{"p":278,"t":3,"v":4.31},{"p":279,"t":3,"v":3.48},{"p":280,"t":3,"v":3.25}
]},
"layer":[
{"mark":{"type":"point","filled":true,"opacity":1},
"encoding":{
"x":{"field":"p","type":"quantitative","scale":{"domain":[0,300],"nice":false},"title":"Period","axis":{"values":[0,50,100,150,200,250,300],"grid":true,"gridColor":"#bfcfcf","gridDash":[1,4],"gridWidth":1,"tickSize":-6,"tickColor":"black","domain":true,"domainColor":"black","labelFont":"Liberation Sans","labelFontWeight":"bold","labelFontSize":14,"labelColor":"black","labelPadding":18,"titleFont":"Liberation Sans","titleFontWeight":"bold","titleFontSize":14,"titleColor":"black","titlePadding":9,"labelFlush":false}},
"y":{"field":"v","type":"quantitative","scale":{"domain":[0,8],"nice":false},"title":"Time [sec]","axis":{"values":[0,1,2,3,4,5,6,7,8],"grid":true,"gridColor":"#bfcfcf","gridDash":[1,4],"gridWidth":1,"tickSize":-6,"tickColor":"black","domain":true,"domainColor":"black","labelFont":"Liberation Sans","labelFontWeight":"bold","labelFontSize":14,"labelColor":"black","labelPadding":16,"labelOffset":3,"titleFont":"Liberation Sans","titleFontWeight":"bold","titleFontSize":14,"titleColor":"black","titlePadding":16}},
"color":{"field":"t","type":"nominal","scale":{"domain":[0,1,2,3],"range":["#9400D3","#0f7f70","#74a8b4","#F2B544"]},"legend":{"title":null,"orient":"none","legendX":25,"legendY":25,"labelExpr":"'Thread '+datum.label","labelFont":"Liberation Sans","labelFontSize":16,"labelColor":"#222222","rowPadding":0,"symbolOffset":95,"labelOffset":-102,"columnPadding":0}},
"shape":{"field":"t","type":"nominal","scale":{"domain":[0,1,2,3],"range":["square","cross","cross","square"]}},
"size":{"field":"t","type":"nominal","scale":{"domain":[0,1,2,3],"range":[2,8,11,18]}}
}},
{"mark":{"type":"point","opacity":0},
"encoding":{
"x":{"field":"p","type":"quantitative","scale":{"domain":[0,300],"nice":false},"axis":{"orient":"top","values":[0,50,100,150,200,250,300],"grid":false,"labels":false,"title":null,"tickSize":-6,"tickColor":"black","domain":true,"domainColor":"black","zindex":1}},
"y":{"field":"v","type":"quantitative","scale":{"domain":[0,8],"nice":false},"axis":{"orient":"right","values":[0,1,2,3,4,5,6,7,8],"grid":false,"labels":false,"title":null,"tickSize":-6,"tickColor":"black","domain":true,"domainColor":"black","zindex":1}}
}}
],
"resolve":{"axis":{"x":"independent","y":"independent"}}
}
